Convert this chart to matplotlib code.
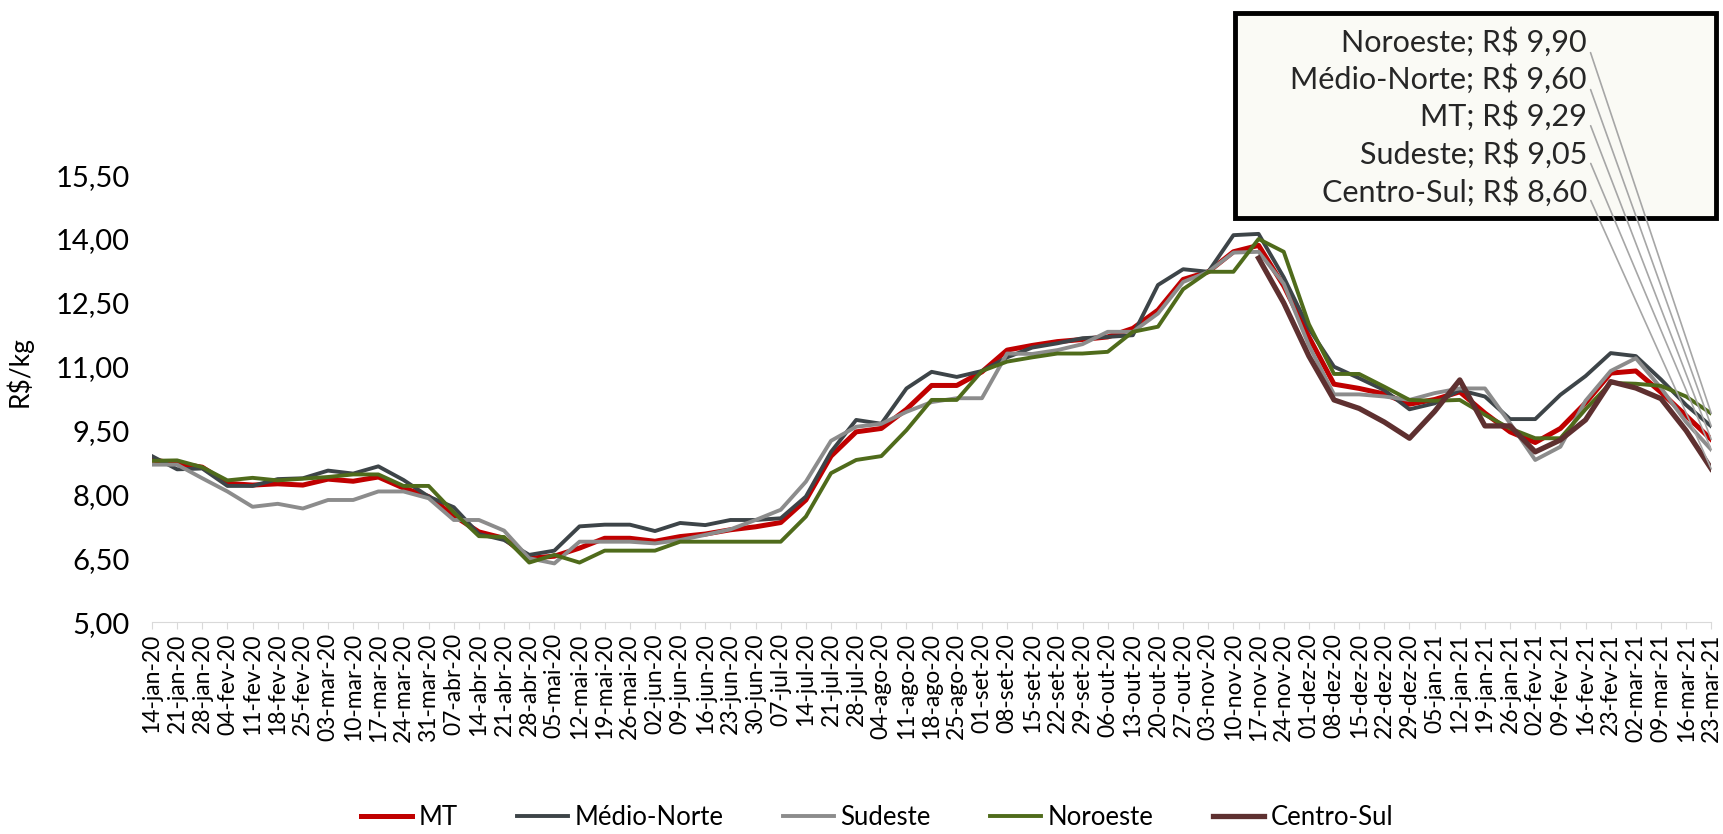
import matplotlib
matplotlib.use("Agg")
import matplotlib.pyplot as plt
from matplotlib.patches import Rectangle
from matplotlib.ticker import FuncFormatter

plt.rcParams["font.family"] = ["Lato", "DejaVu Sans"]

DATES = [
    "14-jan-20", "21-jan-20", "28-jan-20", "04-fev-20", "11-fev-20", "18-fev-20", "25-fev-20",
    "03-mar-20", "10-mar-20", "17-mar-20", "24-mar-20", "31-mar-20", "07-abr-20", "14-abr-20",
    "21-abr-20", "28-abr-20", "05-mai-20", "12-mai-20", "19-mai-20", "26-mai-20", "02-jun-20",
    "09-jun-20", "16-jun-20", "23-jun-20", "30-jun-20", "07-jul-20", "14-jul-20", "21-jul-20",
    "28-jul-20", "04-ago-20", "11-ago-20", "18-ago-20", "25-ago-20", "01-set-20", "08-set-20",
    "15-set-20", "22-set-20", "29-set-20", "06-out-20", "13-out-20", "20-out-20", "27-out-20",
    "03-nov-20", "10-nov-20", "17-nov-20", "24-nov-20", "01-dez-20", "08-dez-20", "15-dez-20",
    "22-dez-20", "29-dez-20", "05-jan-21", "12-jan-21", "19-jan-21", "26-jan-21", "02-fev-21",
    "09-fev-21", "16-fev-21", "23-fev-21", "02-mar-21", "09-mar-21", "16-mar-21", "23-mar-21",
]

MT = [
    8.81, 8.73, 8.64, 8.26, 8.22, 8.25, 8.22, 8.36, 8.31, 8.41, 8.15, 7.95, 7.50, 7.12,
    6.97, 6.50, 6.55, 6.74, 6.97, 6.97, 6.90, 7.01, 7.07, 7.17, 7.24, 7.34, 7.87, 8.90,
    9.47, 9.55, 10.00, 10.56, 10.56, 10.88, 11.39, 11.50, 11.59, 11.64, 11.70, 11.90, 12.33,
    13.05, 13.23, 13.70, 13.85, 12.90, 11.70, 10.59, 10.49, 10.36, 10.12, 10.23, 10.41, 9.91,
    9.47, 9.22, 9.55, 10.15, 10.85, 10.90, 10.40, 9.85, 9.29,
]
MEDIO_NORTE = [
    8.90, 8.59, 8.61, 8.20, 8.20, 8.36, 8.38, 8.56, 8.49, 8.66, 8.34, 7.95, 7.70, 7.07,
    6.93, 6.58, 6.68, 7.25, 7.29, 7.29, 7.14, 7.33, 7.28, 7.40, 7.40, 7.44, 7.95, 9.00,
    9.75, 9.66, 10.49, 10.88, 10.76, 10.90, 11.22, 11.45, 11.55, 11.67, 11.70, 11.74, 12.92,
    13.29, 13.23, 14.09, 14.12, 13.10, 11.90, 11.00, 10.73, 10.45, 10.00, 10.14, 10.45, 10.30,
    9.77, 9.77, 10.34, 10.78, 11.32, 11.25, 10.70, 10.10, 9.60,
]
SUDESTE = [
    8.70, 8.70, 8.38, 8.07, 7.71, 7.78, 7.67, 7.87, 7.87, 8.07, 8.07, 7.91, 7.40, 7.40,
    7.15, 6.50, 6.38, 6.89, 6.89, 6.89, 6.85, 6.93, 7.05, 7.18, 7.40, 7.64, 8.30, 9.26,
    9.59, 9.66, 9.94, 10.17, 10.26, 10.26, 11.31, 11.30, 11.39, 11.53, 11.82, 11.82, 12.25,
    12.99, 13.23, 13.68, 13.70, 12.95, 11.50, 10.35, 10.35, 10.30, 10.22, 10.38, 10.49, 10.49,
    9.67, 8.81, 9.12, 10.20, 10.90, 11.20, 10.50, 9.70, 9.05,
]
NOROESTE = [
    8.79, 8.80, 8.64, 8.33, 8.39, 8.33, 8.37, 8.41, 8.47, 8.47, 8.20, 8.20, 7.58, 7.02,
    7.00, 6.40, 6.58, 6.40, 6.68, 6.68, 6.68, 6.89, 6.89, 6.89, 6.89, 6.89, 7.48, 8.50,
    8.81, 8.90, 9.51, 10.22, 10.22, 10.90, 11.12, 11.22, 11.31, 11.31, 11.35, 11.82, 11.94,
    12.82, 13.23, 13.23, 14.00, 13.70, 12.00, 10.83, 10.83, 10.53, 10.22, 10.20, 10.22, 9.87,
    9.55, 9.32, 9.32, 10.00, 10.62, 10.60, 10.55, 10.30, 9.90,
]
CENTRO_SUL = [None] * 44 + [
    13.55, 12.50, 11.25, 10.22, 10.02, 9.70, 9.32, 9.95, 10.69, 9.61, 9.61, 9.00, 9.28,
    9.75, 10.65, 10.50, 10.25, 9.50, 8.60,
]

SERIES = [
    ("MT", MT, "#C00000", 3.6),
    ("Médio-Norte", MEDIO_NORTE, "#3D4448", 2.8),
    ("Sudeste", SUDESTE, "#8C8C8C", 2.8),
    ("Noroeste", NOROESTE, "#4F6B1B", 2.8),
    ("Centro-Sul", CENTRO_SUL, "#5E3030", 3.8),
]

# annotation box order (top to bottom)
LABEL_ORDER = ["Noroeste", "Médio-Norte", "MT", "Sudeste", "Centro-Sul"]


def main():
    fig = plt.figure(figsize=(17.23, 8.34), dpi=100)
    ax = fig.add_axes([0.0882, 0.254, 0.905, 0.536])

    x = list(range(len(DATES)))
    for name, vals, color, lw in SERIES:
        xs = [i for i, v in zip(x, vals) if v is not None]
        ys = [v for v in vals if v is not None]
        ax.plot(xs, ys, color=color, lw=lw, label=name, solid_joinstyle="round")

    ax.set_xlim(0, len(DATES) - 1)
    ax.set_ylim(5.0, 15.5)
    ax.set_yticks([5.0, 6.5, 8.0, 9.5, 11.0, 12.5, 14.0, 15.5])
    ax.yaxis.set_major_formatter(FuncFormatter(lambda v, p: f"{v:.2f}".replace(".", ",")))
    ax.set_xticks(x)
    ax.set_xticklabels(DATES, rotation=90, fontsize=16.5)
    ax.tick_params(axis="y", length=0, labelsize=21, pad=16)
    ax.tick_params(axis="x", length=5, color="#D9D9D9", pad=3)

    for side in ["top", "right", "left"]:
        ax.spines[side].set_visible(False)
    ax.spines["bottom"].set_color("#D9D9D9")

    fig.text(0.011, 0.555, "R$/kg", rotation=90, ha="center", va="center", fontsize=19)

    fig.legend(loc="center", bbox_to_anchor=(0.509, 0.02), ncol=5, frameon=False,
               fontsize=18.5, handlelength=2.0, columnspacing=2.3, handletextpad=0.25,
               borderpad=0.0)

    # last-value label box
    ax.add_patch(Rectangle((0.717, 0.739), 0.279, 0.246, transform=fig.transFigure,
                           facecolor="#FAFAF5", edgecolor="black", lw=3.5,
                           clip_on=False, zorder=4))
    text_y = [0.950, 0.905, 0.861, 0.815, 0.770]
    lookup = {name: vals for name, vals, _, _ in SERIES}
    for name, ty in zip(LABEL_ORDER, text_y):
        last = lookup[name][-1]
        ax.annotate(f"{name}; R$ {last:.2f}".replace(".", ","),
                    xy=(len(DATES) - 1, last), xycoords="data",
                    xytext=(0.921, ty), textcoords="figure fraction",
                    ha="right", va="center", fontsize=22, color="#262626",
                    arrowprops=dict(arrowstyle="-", color="#A6A6A6", lw=1.2,
                                    shrinkA=2, shrinkB=0, relpos=(1.0, 0.5)),
                    zorder=5)

    fig.savefig("out.png", dpi=100, facecolor="white")
    plt.close(fig)


if __name__ == "__main__":
    main()
